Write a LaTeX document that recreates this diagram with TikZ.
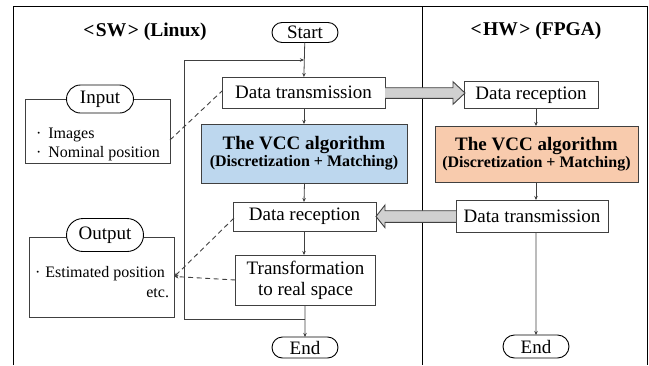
\documentclass[tikz,border=0pt]{standalone}
\usepackage{fontspec}
\setmainfont{Liberation Serif}
\usetikzlibrary{shapes.misc,arrows.meta}
\definecolor{swblue}{HTML}{BDD7EE}
\definecolor{hworange}{HTML}{F8CBAD}
\definecolor{pipegray}{HTML}{D0D0D0}
\definecolor{edgegray}{HTML}{404040}
\begin{document}
\begin{tikzpicture}[x=1pt,y=-1pt,
  every node/.style={inner sep=0pt,outer sep=0pt},
  procbox/.style={draw=edgegray,line width=0.9pt,fill=white,rectangle,font=\fontsize{19}{22}\selectfont,align=center},
  algobox/.style={draw=edgegray,line width=0.9pt,rectangle,align=center},
  term/.style={draw=black,line width=0.9pt,fill=white,rounded rectangle,font=\fontsize{19}{22}\selectfont},
  groupbox/.style={draw=edgegray,line width=0.9pt},
  flow/.style={draw=edgegray,line width=0.8pt,-{Stealth[length=4pt,width=3.5pt]}},
  link/.style={draw=edgegray,line width=0.9pt,dash pattern=on 5pt off 3.5pt},
  pipe/.style={draw=edgegray,line width=0.9pt,fill=pipegray,line join=miter},
  heading/.style={font=\fontsize{19.5}{22}\selectfont\bfseries},
  itemtext/.style={font=\fontsize{16}{19}\selectfont,anchor=west}
]
\useasboundingbox (0,0) rectangle (649,365);

% outer frame and the SW/HW divider
\draw[line width=0.9pt,black] (13,365) -- (13,6) -- (647,6) -- (647,365);
\draw[line width=0.9pt,black] (422,6) -- (422,365);

% column headings
\node[heading] (swtitle) at (145,32) {<\kern1.5pt SW\kern1.5pt> (Linux)};
\node[heading] (hwtitle) at (536,31) {<\kern1.5pt HW\kern1.5pt> (FPGA)};

% SW flow
\node[term,minimum width=66pt,minimum height=20pt] (start) at (305,32.5) {Start};
\node[procbox,minimum width=163pt,minimum height=31pt] (dtx) at (303.5,92.5) {Data transmission};
\node[algobox,fill=swblue,minimum width=206pt,minimum height=59pt] (vccsw) at (304,153.5)
  {{\fontsize{19}{21}\selectfont\bfseries The VCC algorithm}\\[1pt]{\fontsize{16}{18}\selectfont\bfseries (Discretization + Matching)}};
\node[procbox,minimum width=143pt,minimum height=29pt] (drx) at (304.5,216.5) {Data reception};
\node[procbox,minimum width=140pt,minimum height=50pt,font=\fontsize{19}{21}\selectfont] (trans) at (305.5,280) {Transformation\\to real space};
\node[term,minimum width=66pt,minimum height=21pt] (endsw) at (305,347.5) {End};

% HW flow
\node[procbox,minimum width=134pt,minimum height=26.5pt] (hrx) at (531,95) {Data reception};
\node[algobox,fill=hworange,minimum width=203pt,minimum height=56pt] (vcchw) at (536.5,154)
  {{\fontsize{19}{21}\selectfont\bfseries The VCC algorithm}\\[1pt]{\fontsize{16}{18}\selectfont\bfseries (Discretization + Matching)}};
\node[procbox,minimum width=152pt,minimum height=32pt] (htx) at (532,216) {Data transmission};
\node[term,minimum width=66pt,minimum height=23pt] (endhw) at (536,346.5) {End};

% input and output groups
\draw[groupbox] (25,99) rectangle (170,163);
\node[term,minimum width=67pt,minimum height=28pt] (inlabel) at (100,99) {Input};
\node[itemtext] (inimg) at (36,135) {·\kern7pt Images};
\node[itemtext] (inpos) at (36,154) {·\kern7pt Nominal position};

\draw[groupbox] (29,237) rectangle (174,317);
\node[term,minimum width=77pt,minimum height=33pt] (outlabel) at (105,235) {Output};
\node[itemtext] (outpos) at (35,274) {·\kern5pt Estimated position};
\node[font=\fontsize{16}{19}\selectfont,anchor=east] (outetc) at (169,293) {etc.};

% SW flow arrows and the loop back
\coordinate (loopin) at (304,60);
\coordinate (loopout) at (305,319);
\draw[flow] (start) -- (dtx);
\draw[flow] (dtx.south -| vccsw) -- (vccsw);
\draw[flow] (vccsw.south -| drx) -- (drx.north -| vccsw);
\draw[flow] (drx.south -| vccsw) -- (trans.north -| vccsw);
\draw[flow] (trans.south -| endsw) -- (endsw);
\draw[flow] (loopout) -- (184,319) -- (184,60) -- (loopin);

% HW flow arrows
\draw[flow] (hrx.south -| endhw) -- (vcchw.north -| endhw);
\draw[flow] (vcchw.south -| endhw) -- (htx.north -| endhw);
\draw[flow] (htx.south -| endhw) -- (endhw);

% data exchange between SW and HW
\draw[pipe] (dtx.east |- 0,87.7) -- (453,87.7) -- (453,81.7) -- (465,93) -- (453,104.3) -- (453,98.3) -- (dtx.east |- 0,98.3);
\draw[pipe] (htx.west |- 0,210.7) -- (385,210.7) -- (385,205) -- (376,216.5) -- (385,227.7) -- (385,222.3) -- (htx.west |- 0,222.3);

% dashed links to the input and output groups
\coordinate (inlink) at (170,140);
\coordinate (outlink) at (174.5,276.5);
\draw[link] (inlink) -- (222,91);
\draw[link,-{Stealth[length=4pt,width=3.5pt]}] (234,218) -- (outlink);
\draw[link,-{Stealth[length=4pt,width=3.5pt]}] (trans.west) -- (outlink);
\end{tikzpicture}
\end{document}
